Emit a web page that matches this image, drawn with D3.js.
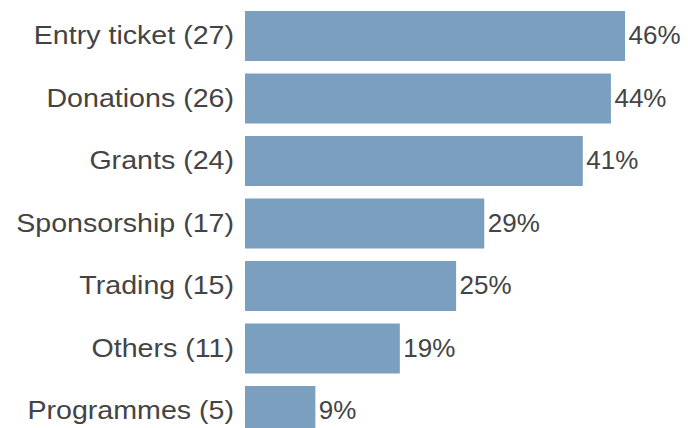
<!DOCTYPE html>
<html>
<head>
<meta charset="utf-8">
<script src="https://cdn.jsdelivr.net/npm/d3@7"></script>
<style>
  html, body { margin: 0; padding: 0; background: #fff; }
  svg { display: block; }
</style>
</head>
<body>
<svg id="chart" width="688" height="428"></svg>
<script>
// Income sources: respondent counts and share of respondents
const categories = ["Entry ticket", "Donations", "Grants", "Sponsorship", "Trading", "Others", "Programmes"];
const counts = [27, 26, 24, 17, 15, 11, 5];
const percents = [46, 44, 41, 29, 25, 19, 9];

const rows = categories.map((c, i) => ({ name: c, count: counts[i], pct: percents[i] }));

const svg = d3.select("#chart");
const left = 245, right = 625;

const x = d3.scaleLinear().domain([0, d3.max(counts)]).range([left, right]);
const y = d3.scaleBand()
  .domain(categories)
  .range([4.75, 442.25])
  .paddingInner(0.2)
  .paddingOuter(0.1);

const font = "'Liberation Sans', Arial, Helvetica, sans-serif";
const textColor = "#444444";
const fontSize = 26;

svg.append("g")
  .selectAll("rect")
  .data(rows)
  .join("rect")
  .attr("x", x(0))
  .attr("y", d => y(d.name))
  .attr("width", d => x(d.count) - x(0))
  .attr("height", y.bandwidth())
  .attr("fill", "#7b9fbe");

// Category labels with counts, set slightly wide
svg.append("g")
  .selectAll("text")
  .data(rows)
  .join("text")
  .attr("transform", d => `translate(${left - 11},${y(d.name) + y.bandwidth() / 2}) scale(1.1,1)`)
  .attr("dy", "0.32em")
  .attr("text-anchor", "end")
  .attr("font-family", font)
  .attr("font-size", fontSize)
  .attr("fill", textColor)
  .text(d => `${d.name} (${d.count})`);

// Percentage labels at bar ends
svg.append("g")
  .selectAll("text")
  .data(rows)
  .join("text")
  .attr("x", d => x(d.count) + 3.5)
  .attr("y", d => y(d.name) + y.bandwidth() / 2)
  .attr("dy", "0.32em")
  .attr("text-anchor", "start")
  .attr("font-family", font)
  .attr("font-size", fontSize)
  .attr("fill", textColor)
  .text(d => `${d.pct}%`);
</script>
</body>
</html>
